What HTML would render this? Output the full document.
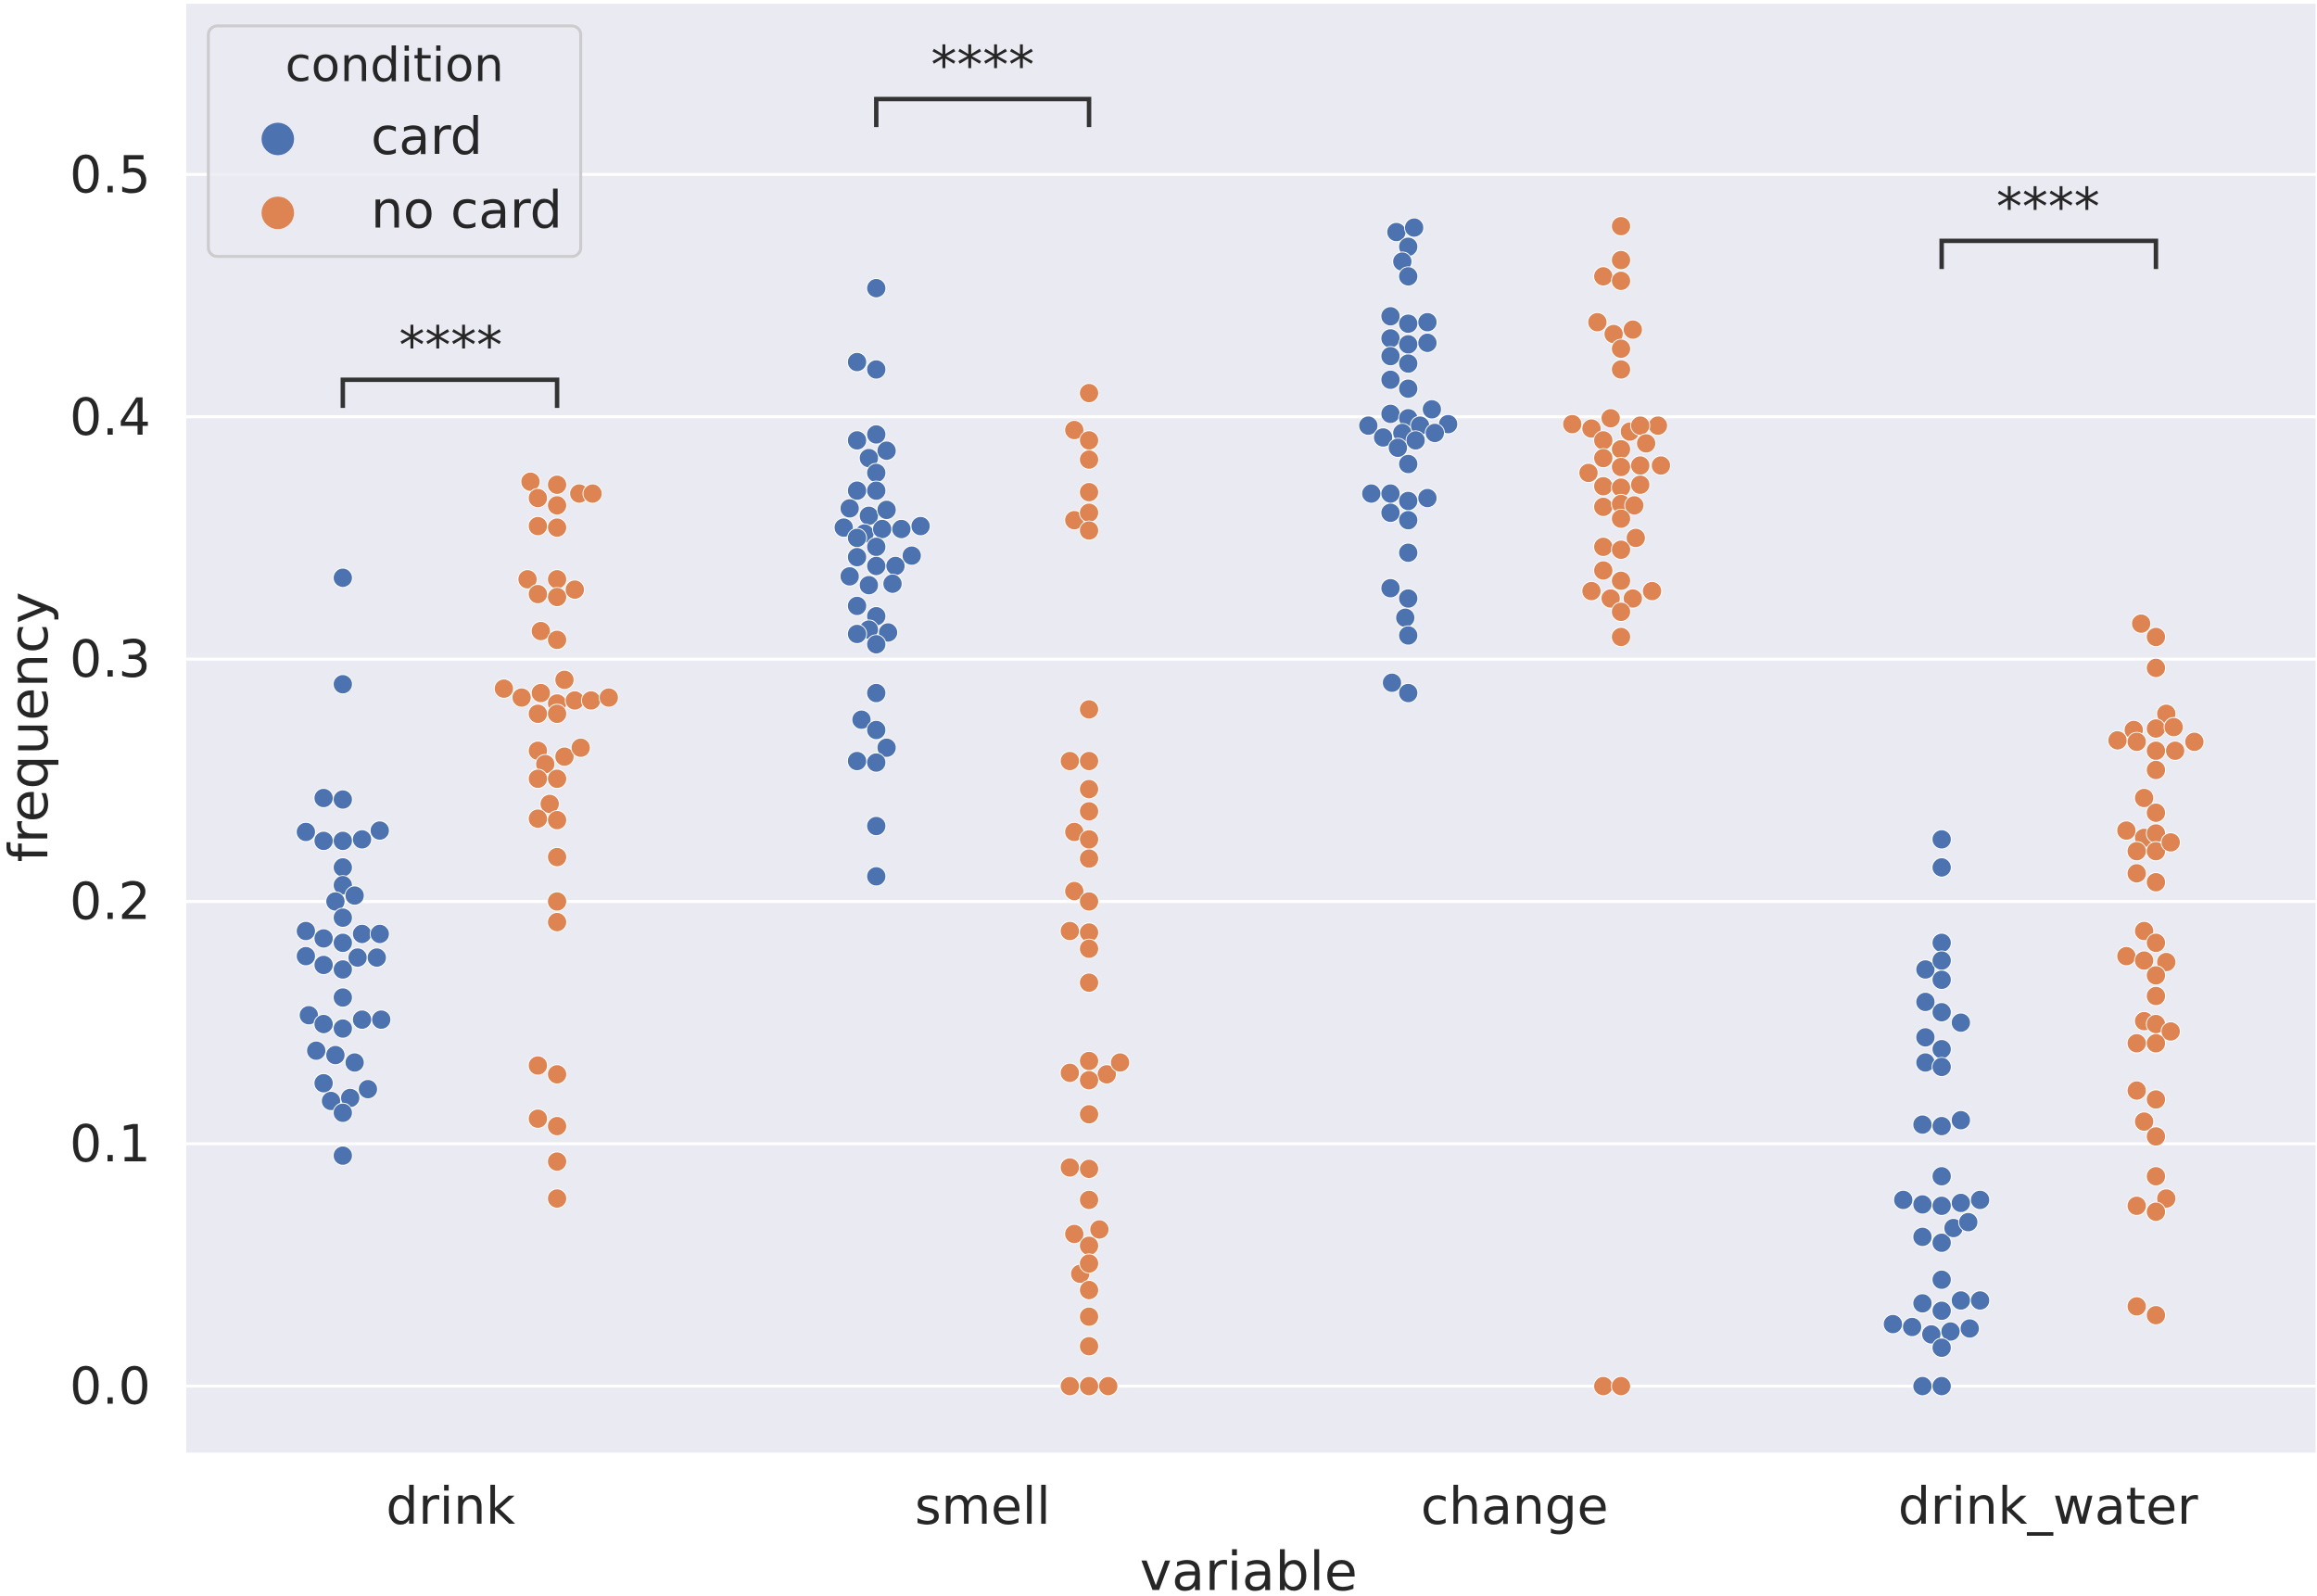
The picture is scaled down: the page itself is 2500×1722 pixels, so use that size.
<!DOCTYPE html>
<html><head><meta charset="utf-8"><style>
html,body{margin:0;padding:0;background:#fff;}
svg{display:block;}
text{font-family:"DejaVu Sans","Liberation Sans",sans-serif;fill:#262626;}
</style></head><body>
<svg width="2500" height="1722" viewBox="0 0 1568 1080" xmlns="http://www.w3.org/2000/svg">
<rect x="0" y="0" width="1568" height="1080" fill="#fff"/>
<rect x="126" y="2.5" width="1441" height="980.5" fill="#eaeaf2"/>
<g stroke="#fff" stroke-width="2">
<line x1="126" x2="1567" y1="938" y2="938"/>
<line x1="126" x2="1567" y1="774" y2="774"/>
<line x1="126" x2="1567" y1="610" y2="610"/>
<line x1="126" x2="1567" y1="446" y2="446"/>
<line x1="126" x2="1567" y1="282" y2="282"/>
<line x1="126" x2="1567" y1="118" y2="118"/>
</g>
<g font-size="34.5" text-anchor="end">
<text x="102" y="950">0.0</text>
<text x="102" y="786">0.1</text>
<text x="102" y="622">0.2</text>
<text x="102" y="458">0.3</text>
<text x="102" y="294">0.4</text>
<text x="102" y="130">0.5</text>
</g>
<g font-size="34.5" text-anchor="middle">
<text x="305" y="1031">drink</text>
<text x="665" y="1031">smell</text>
<text x="1025" y="1031">change</text>
<text x="1386" y="1031">drink_water</text>
<text x="845" y="1076" font-size="36.5">variable</text>
<text transform="translate(32,492) rotate(-90)" font-size="36.5">frequency</text>
</g>
<g fill="#4c72b0" stroke="#fff" stroke-width="0.6">
<circle cx="232" cy="391" r="6.5"/><circle cx="232" cy="463" r="6.5"/><circle cx="219" cy="540" r="6.5"/><circle cx="232" cy="541" r="6.5"/><circle cx="207" cy="563" r="6.5"/><circle cx="219" cy="569" r="6.5"/><circle cx="232" cy="569" r="6.5"/><circle cx="245" cy="568" r="6.5"/><circle cx="257" cy="562" r="6.5"/><circle cx="232" cy="587" r="6.5"/><circle cx="232" cy="599" r="6.5"/><circle cx="227" cy="610" r="6.5"/><circle cx="240" cy="606" r="6.5"/><circle cx="232" cy="621" r="6.5"/><circle cx="207" cy="630" r="6.5"/><circle cx="219" cy="635" r="6.5"/><circle cx="232" cy="638" r="6.5"/><circle cx="245" cy="632" r="6.5"/><circle cx="257" cy="632" r="6.5"/><circle cx="207" cy="647" r="6.5"/><circle cx="219" cy="653" r="6.5"/><circle cx="232" cy="656" r="6.5"/><circle cx="242" cy="648" r="6.5"/><circle cx="255" cy="648" r="6.5"/><circle cx="232" cy="675" r="6.5"/><circle cx="209" cy="687" r="6.5"/><circle cx="219" cy="693" r="6.5"/><circle cx="232" cy="696" r="6.5"/><circle cx="245" cy="690" r="6.5"/><circle cx="258" cy="690" r="6.5"/><circle cx="214" cy="711" r="6.5"/><circle cx="227" cy="714" r="6.5"/><circle cx="240" cy="719" r="6.5"/><circle cx="219" cy="733" r="6.5"/><circle cx="249" cy="737" r="6.5"/><circle cx="237" cy="743" r="6.5"/><circle cx="224" cy="745" r="6.5"/><circle cx="232" cy="753" r="6.5"/><circle cx="232" cy="782" r="6.5"/>
<circle cx="593" cy="195" r="6.5"/><circle cx="580" cy="245" r="6.5"/><circle cx="593" cy="250" r="6.5"/><circle cx="580" cy="298" r="6.5"/><circle cx="593" cy="294" r="6.5"/><circle cx="600" cy="305" r="6.5"/><circle cx="588" cy="310" r="6.5"/><circle cx="593" cy="320" r="6.5"/><circle cx="580" cy="332" r="6.5"/><circle cx="593" cy="332" r="6.5"/><circle cx="575" cy="344" r="6.5"/><circle cx="588" cy="349" r="6.5"/><circle cx="600" cy="345" r="6.5"/><circle cx="571" cy="357" r="6.5"/><circle cx="585" cy="361" r="6.5"/><circle cx="597" cy="358" r="6.5"/><circle cx="610" cy="358" r="6.5"/><circle cx="623" cy="356" r="6.5"/><circle cx="580" cy="364" r="6.5"/><circle cx="593" cy="370" r="6.5"/><circle cx="580" cy="377" r="6.5"/><circle cx="617" cy="376" r="6.5"/><circle cx="593" cy="383" r="6.5"/><circle cx="606" cy="383" r="6.5"/><circle cx="575" cy="390" r="6.5"/><circle cx="588" cy="396" r="6.5"/><circle cx="604" cy="395" r="6.5"/><circle cx="580" cy="410" r="6.5"/><circle cx="593" cy="417" r="6.5"/><circle cx="588" cy="426" r="6.5"/><circle cx="580" cy="429" r="6.5"/><circle cx="601" cy="428" r="6.5"/><circle cx="593" cy="436" r="6.5"/><circle cx="593" cy="469" r="6.5"/><circle cx="583" cy="487" r="6.5"/><circle cx="593" cy="494" r="6.5"/><circle cx="600" cy="506" r="6.5"/><circle cx="580" cy="515" r="6.5"/><circle cx="593" cy="516" r="6.5"/><circle cx="593" cy="559" r="6.5"/><circle cx="593" cy="593" r="6.5"/>
<circle cx="945" cy="157" r="6.5"/><circle cx="957" cy="154" r="6.5"/><circle cx="953" cy="167" r="6.5"/><circle cx="949" cy="177" r="6.5"/><circle cx="953" cy="187" r="6.5"/><circle cx="941" cy="214" r="6.5"/><circle cx="953" cy="219" r="6.5"/><circle cx="966" cy="218" r="6.5"/><circle cx="941" cy="229" r="6.5"/><circle cx="953" cy="233" r="6.5"/><circle cx="966" cy="232" r="6.5"/><circle cx="941" cy="241" r="6.5"/><circle cx="953" cy="246" r="6.5"/><circle cx="941" cy="257" r="6.5"/><circle cx="953" cy="263" r="6.5"/><circle cx="941" cy="280" r="6.5"/><circle cx="953" cy="283" r="6.5"/><circle cx="969" cy="277" r="6.5"/><circle cx="926" cy="288" r="6.5"/><circle cx="936" cy="296" r="6.5"/><circle cx="949" cy="293" r="6.5"/><circle cx="961" cy="288" r="6.5"/><circle cx="980" cy="287" r="6.5"/><circle cx="946" cy="303" r="6.5"/><circle cx="958" cy="298" r="6.5"/><circle cx="971" cy="293" r="6.5"/><circle cx="953" cy="314" r="6.5"/><circle cx="928" cy="334" r="6.5"/><circle cx="941" cy="334" r="6.5"/><circle cx="953" cy="339" r="6.5"/><circle cx="966" cy="337" r="6.5"/><circle cx="941" cy="347" r="6.5"/><circle cx="953" cy="352" r="6.5"/><circle cx="953" cy="374" r="6.5"/><circle cx="941" cy="398" r="6.5"/><circle cx="953" cy="405" r="6.5"/><circle cx="951" cy="418" r="6.5"/><circle cx="953" cy="430" r="6.5"/><circle cx="942" cy="462" r="6.5"/><circle cx="953" cy="469" r="6.5"/>
<circle cx="1314" cy="568" r="6.5"/><circle cx="1314" cy="587" r="6.5"/><circle cx="1314" cy="638" r="6.5"/><circle cx="1303" cy="656" r="6.5"/><circle cx="1314" cy="650" r="6.5"/><circle cx="1314" cy="663" r="6.5"/><circle cx="1303" cy="678" r="6.5"/><circle cx="1314" cy="685" r="6.5"/><circle cx="1327" cy="692" r="6.5"/><circle cx="1303" cy="702" r="6.5"/><circle cx="1314" cy="710" r="6.5"/><circle cx="1303" cy="719" r="6.5"/><circle cx="1314" cy="722" r="6.5"/><circle cx="1301" cy="761" r="6.5"/><circle cx="1314" cy="762" r="6.5"/><circle cx="1327" cy="758" r="6.5"/><circle cx="1314" cy="796" r="6.5"/><circle cx="1288" cy="812" r="6.5"/><circle cx="1301" cy="815" r="6.5"/><circle cx="1314" cy="816" r="6.5"/><circle cx="1327" cy="814" r="6.5"/><circle cx="1340" cy="812" r="6.5"/><circle cx="1301" cy="837" r="6.5"/><circle cx="1314" cy="841" r="6.5"/><circle cx="1322" cy="831" r="6.5"/><circle cx="1332" cy="827" r="6.5"/><circle cx="1314" cy="866" r="6.5"/><circle cx="1301" cy="882" r="6.5"/><circle cx="1314" cy="887" r="6.5"/><circle cx="1327" cy="880" r="6.5"/><circle cx="1340" cy="880" r="6.5"/><circle cx="1281" cy="896" r="6.5"/><circle cx="1294" cy="898" r="6.5"/><circle cx="1307" cy="903" r="6.5"/><circle cx="1320" cy="901" r="6.5"/><circle cx="1333" cy="899" r="6.5"/><circle cx="1314" cy="912" r="6.5"/><circle cx="1301" cy="938" r="6.5"/><circle cx="1314" cy="938" r="6.5"/>
</g>
<g fill="#dd8452" stroke="#fff" stroke-width="0.6">
<circle cx="359" cy="326" r="6.5"/><circle cx="377" cy="328" r="6.5"/><circle cx="392" cy="334" r="6.5"/><circle cx="401" cy="334" r="6.5"/><circle cx="364" cy="337" r="6.5"/><circle cx="377" cy="342" r="6.5"/><circle cx="364" cy="356" r="6.5"/><circle cx="377" cy="357" r="6.5"/><circle cx="357" cy="392" r="6.5"/><circle cx="377" cy="392" r="6.5"/><circle cx="364" cy="402" r="6.5"/><circle cx="377" cy="404" r="6.5"/><circle cx="389" cy="399" r="6.5"/><circle cx="366" cy="427" r="6.5"/><circle cx="377" cy="433" r="6.5"/><circle cx="341" cy="466" r="6.5"/><circle cx="353" cy="472" r="6.5"/><circle cx="366" cy="469" r="6.5"/><circle cx="382" cy="460" r="6.5"/><circle cx="377" cy="476" r="6.5"/><circle cx="389" cy="474" r="6.5"/><circle cx="400" cy="474" r="6.5"/><circle cx="412" cy="472" r="6.5"/><circle cx="364" cy="483" r="6.5"/><circle cx="377" cy="483" r="6.5"/><circle cx="364" cy="508" r="6.5"/><circle cx="382" cy="512" r="6.5"/><circle cx="393" cy="506" r="6.5"/><circle cx="369" cy="517" r="6.5"/><circle cx="364" cy="527" r="6.5"/><circle cx="377" cy="527" r="6.5"/><circle cx="372" cy="544" r="6.5"/><circle cx="364" cy="554" r="6.5"/><circle cx="377" cy="555" r="6.5"/><circle cx="377" cy="580" r="6.5"/><circle cx="377" cy="610" r="6.5"/><circle cx="377" cy="624" r="6.5"/><circle cx="364" cy="721" r="6.5"/><circle cx="377" cy="727" r="6.5"/><circle cx="364" cy="757" r="6.5"/><circle cx="377" cy="762" r="6.5"/><circle cx="377" cy="786" r="6.5"/><circle cx="377" cy="811" r="6.5"/>
<circle cx="737" cy="266" r="6.5"/><circle cx="727" cy="291" r="6.5"/><circle cx="737" cy="298" r="6.5"/><circle cx="737" cy="311" r="6.5"/><circle cx="737" cy="333" r="6.5"/><circle cx="727" cy="352" r="6.5"/><circle cx="737" cy="347" r="6.5"/><circle cx="737" cy="359" r="6.5"/><circle cx="737" cy="480" r="6.5"/><circle cx="724" cy="515" r="6.5"/><circle cx="737" cy="515" r="6.5"/><circle cx="737" cy="534" r="6.5"/><circle cx="737" cy="549" r="6.5"/><circle cx="727" cy="563" r="6.5"/><circle cx="737" cy="568" r="6.5"/><circle cx="737" cy="581" r="6.5"/><circle cx="727" cy="603" r="6.5"/><circle cx="737" cy="610" r="6.5"/><circle cx="724" cy="630" r="6.5"/><circle cx="737" cy="631" r="6.5"/><circle cx="737" cy="642" r="6.5"/><circle cx="737" cy="665" r="6.5"/><circle cx="724" cy="726" r="6.5"/><circle cx="737" cy="718" r="6.5"/><circle cx="749" cy="727" r="6.5"/><circle cx="758" cy="719" r="6.5"/><circle cx="737" cy="731" r="6.5"/><circle cx="737" cy="754" r="6.5"/><circle cx="724" cy="790" r="6.5"/><circle cx="737" cy="791" r="6.5"/><circle cx="737" cy="812" r="6.5"/><circle cx="727" cy="835" r="6.5"/><circle cx="744" cy="832" r="6.5"/><circle cx="737" cy="843" r="6.5"/><circle cx="731" cy="862" r="6.5"/><circle cx="737" cy="855" r="6.5"/><circle cx="737" cy="873" r="6.5"/><circle cx="737" cy="891" r="6.5"/><circle cx="737" cy="911" r="6.5"/><circle cx="724" cy="938" r="6.5"/><circle cx="737" cy="938" r="6.5"/><circle cx="750" cy="938" r="6.5"/>
<circle cx="1097" cy="153" r="6.5"/><circle cx="1097" cy="176" r="6.5"/><circle cx="1085" cy="187" r="6.5"/><circle cx="1097" cy="190" r="6.5"/><circle cx="1081" cy="218" r="6.5"/><circle cx="1092" cy="226" r="6.5"/><circle cx="1105" cy="223" r="6.5"/><circle cx="1097" cy="236" r="6.5"/><circle cx="1097" cy="250" r="6.5"/><circle cx="1064" cy="287" r="6.5"/><circle cx="1077" cy="290" r="6.5"/><circle cx="1090" cy="283" r="6.5"/><circle cx="1103" cy="292" r="6.5"/><circle cx="1122" cy="288" r="6.5"/><circle cx="1085" cy="298" r="6.5"/><circle cx="1110" cy="288" r="6.5"/><circle cx="1085" cy="310" r="6.5"/><circle cx="1097" cy="304" r="6.5"/><circle cx="1114" cy="300" r="6.5"/><circle cx="1075" cy="320" r="6.5"/><circle cx="1097" cy="316" r="6.5"/><circle cx="1110" cy="315" r="6.5"/><circle cx="1124" cy="315" r="6.5"/><circle cx="1085" cy="329" r="6.5"/><circle cx="1097" cy="330" r="6.5"/><circle cx="1110" cy="328" r="6.5"/><circle cx="1085" cy="343" r="6.5"/><circle cx="1097" cy="341" r="6.5"/><circle cx="1106" cy="342" r="6.5"/><circle cx="1097" cy="351" r="6.5"/><circle cx="1107" cy="364" r="6.5"/><circle cx="1085" cy="370" r="6.5"/><circle cx="1097" cy="372" r="6.5"/><circle cx="1085" cy="386" r="6.5"/><circle cx="1097" cy="393" r="6.5"/><circle cx="1077" cy="400" r="6.5"/><circle cx="1090" cy="405" r="6.5"/><circle cx="1105" cy="405" r="6.5"/><circle cx="1118" cy="400" r="6.5"/><circle cx="1097" cy="414" r="6.5"/><circle cx="1097" cy="431" r="6.5"/><circle cx="1085" cy="938" r="6.5"/><circle cx="1097" cy="938" r="6.5"/>
<circle cx="1449" cy="422" r="6.5"/><circle cx="1459" cy="431" r="6.5"/><circle cx="1459" cy="452" r="6.5"/><circle cx="1466" cy="483" r="6.5"/><circle cx="1444" cy="494" r="6.5"/><circle cx="1459" cy="493" r="6.5"/><circle cx="1471" cy="492" r="6.5"/><circle cx="1433" cy="501" r="6.5"/><circle cx="1446" cy="502" r="6.5"/><circle cx="1459" cy="508" r="6.5"/><circle cx="1472" cy="508" r="6.5"/><circle cx="1485" cy="502" r="6.5"/><circle cx="1459" cy="521" r="6.5"/><circle cx="1451" cy="540" r="6.5"/><circle cx="1459" cy="550" r="6.5"/><circle cx="1439" cy="562" r="6.5"/><circle cx="1451" cy="567" r="6.5"/><circle cx="1459" cy="564" r="6.5"/><circle cx="1446" cy="576" r="6.5"/><circle cx="1459" cy="576" r="6.5"/><circle cx="1469" cy="570" r="6.5"/><circle cx="1446" cy="591" r="6.5"/><circle cx="1459" cy="597" r="6.5"/><circle cx="1451" cy="630" r="6.5"/><circle cx="1459" cy="638" r="6.5"/><circle cx="1439" cy="647" r="6.5"/><circle cx="1451" cy="650" r="6.5"/><circle cx="1466" cy="651" r="6.5"/><circle cx="1459" cy="660" r="6.5"/><circle cx="1459" cy="674" r="6.5"/><circle cx="1451" cy="691" r="6.5"/><circle cx="1459" cy="693" r="6.5"/><circle cx="1469" cy="698" r="6.5"/><circle cx="1446" cy="706" r="6.5"/><circle cx="1459" cy="706" r="6.5"/><circle cx="1446" cy="738" r="6.5"/><circle cx="1459" cy="744" r="6.5"/><circle cx="1451" cy="759" r="6.5"/><circle cx="1459" cy="769" r="6.5"/><circle cx="1459" cy="796" r="6.5"/><circle cx="1466" cy="811" r="6.5"/><circle cx="1446" cy="816" r="6.5"/><circle cx="1459" cy="820" r="6.5"/><circle cx="1446" cy="884" r="6.5"/><circle cx="1459" cy="890" r="6.5"/>
</g>
<g fill="none" stroke="#333" stroke-width="3">
<polyline points="232,276 232,257 377,257 377,276"/>
<polyline points="593,86 593,67 737,67 737,86"/>
<polyline points="1314,182 1314,163 1459,163 1459,182"/>
</g>
<g font-size="35" text-anchor="middle">
<text x="305" y="246">****</text>
<text x="665" y="56">****</text>
<text x="1386" y="152">****</text>
</g>
<rect x="141" y="17.5" width="252" height="156" rx="6" fill="#eaeaf2" fill-opacity="0.8" stroke="#cccccc" stroke-width="2"/>
<text x="267" y="55" font-size="32" text-anchor="middle">condition</text>
<circle cx="188" cy="94" r="11" fill="#4c72b0"/>
<circle cx="188" cy="144" r="11" fill="#dd8452"/>
<text x="251" y="104" font-size="34.5">card</text>
<text x="251" y="154" font-size="34.5">no card</text>
</svg>
</body></html>
